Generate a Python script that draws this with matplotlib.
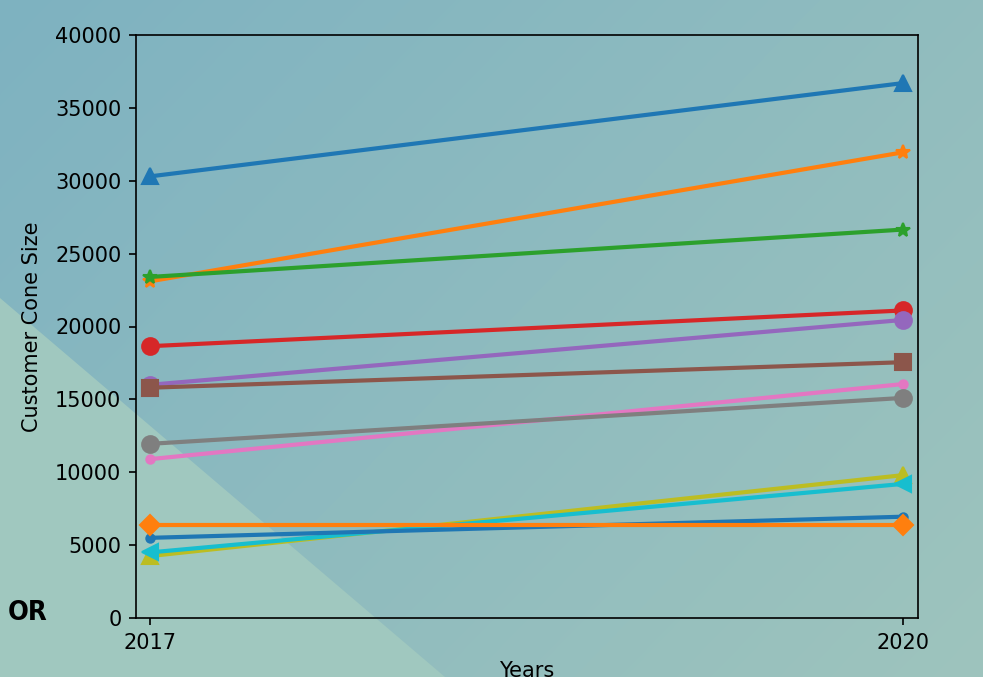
import numpy as np
import matplotlib
matplotlib.use("Agg")
import matplotlib.pyplot as plt
from matplotlib.patches import Polygon

# ── Data ──────────────────────────────────────────────────────────────────────
years = [2017, 2020]
year_labels = ["2017", "2020"]

series_2017 = [30300, 23100, 23400, 18650, 16000, 15800, 10900, 11950, 4250, 4500, 5500, 6400]
series_2020 = [36700, 31950, 26650, 21100, 20450, 17550, 16050, 15100, 9800, 9200, 6950, 6400]
markers = ["^", "*", "*", "o", "o", "s", ".", "o", "^", "<", ".", "D"]
colors = ["C0", "C1", "C2", "C3", "C4", "C5", "C6", "C7", "C8", "C9", "C0", "C1"]
marker_sizes = [8, 7, 7, 8, 8, 8, 8, 8, 8, 8, 8, 7]

y_ticks = [0, 5000, 10000, 15000, 20000, 25000, 30000, 35000, 40000]

# ── Figure ────────────────────────────────────────────────────────────────────
fig = plt.figure(figsize=(983 / 150, 677 / 150), dpi=150)

# background gradient + lighter lower-left wedge
bg = fig.add_axes([0, 0, 1, 1], zorder=-10)
bg.set_axis_off()
h, w = 677, 983
yy, xx = np.mgrid[0:h, 0:w]
t = np.clip((xx / w * 0.6 + yy / h * 0.4), 0, 1)[..., None]
c_tl = np.array([126, 178, 193]) / 255
c_br = np.array([158, 196, 189]) / 255
img = c_tl * (1 - t) + c_br * t
bg.imshow(img, extent=[0, w, h, 0], aspect="auto")
bg.add_patch(Polygon([[0, 298], [445, 677], [0, 677]], closed=True,
                     facecolor="#a0c8bf", edgecolor="none"))
bg.set_xlim(0, w)
bg.set_ylim(h, 0)

ax = fig.add_axes([136 / w, 1 - 618 / h, (918 - 136) / w, (618 - 35) / h])
ax.set_facecolor("none")

for y0, y1, m, c, ms in zip(series_2017, series_2020, markers, colors, marker_sizes):
    ax.plot(years, [y0, y1], marker=m, color=c, lw=2, ms=ms)

ax.set_xlim(2016.944, 2020.06)
ax.set_ylim(0, 40000)
ax.set_xticks(years)
ax.set_xticklabels(year_labels)
ax.set_yticks(y_ticks)
ax.set_xlabel("Years")
ax.set_ylabel("Customer Cone Size", labelpad=6.5)

fig.text(8 / w, 1 - 620 / h, "OR", fontsize=13, fontweight="bold",
         family=["Liberation Sans Narrow", "DejaVu Sans"], fontstretch="condensed",
         ha="left", va="baseline")

fig.savefig("out.png", dpi=150)
